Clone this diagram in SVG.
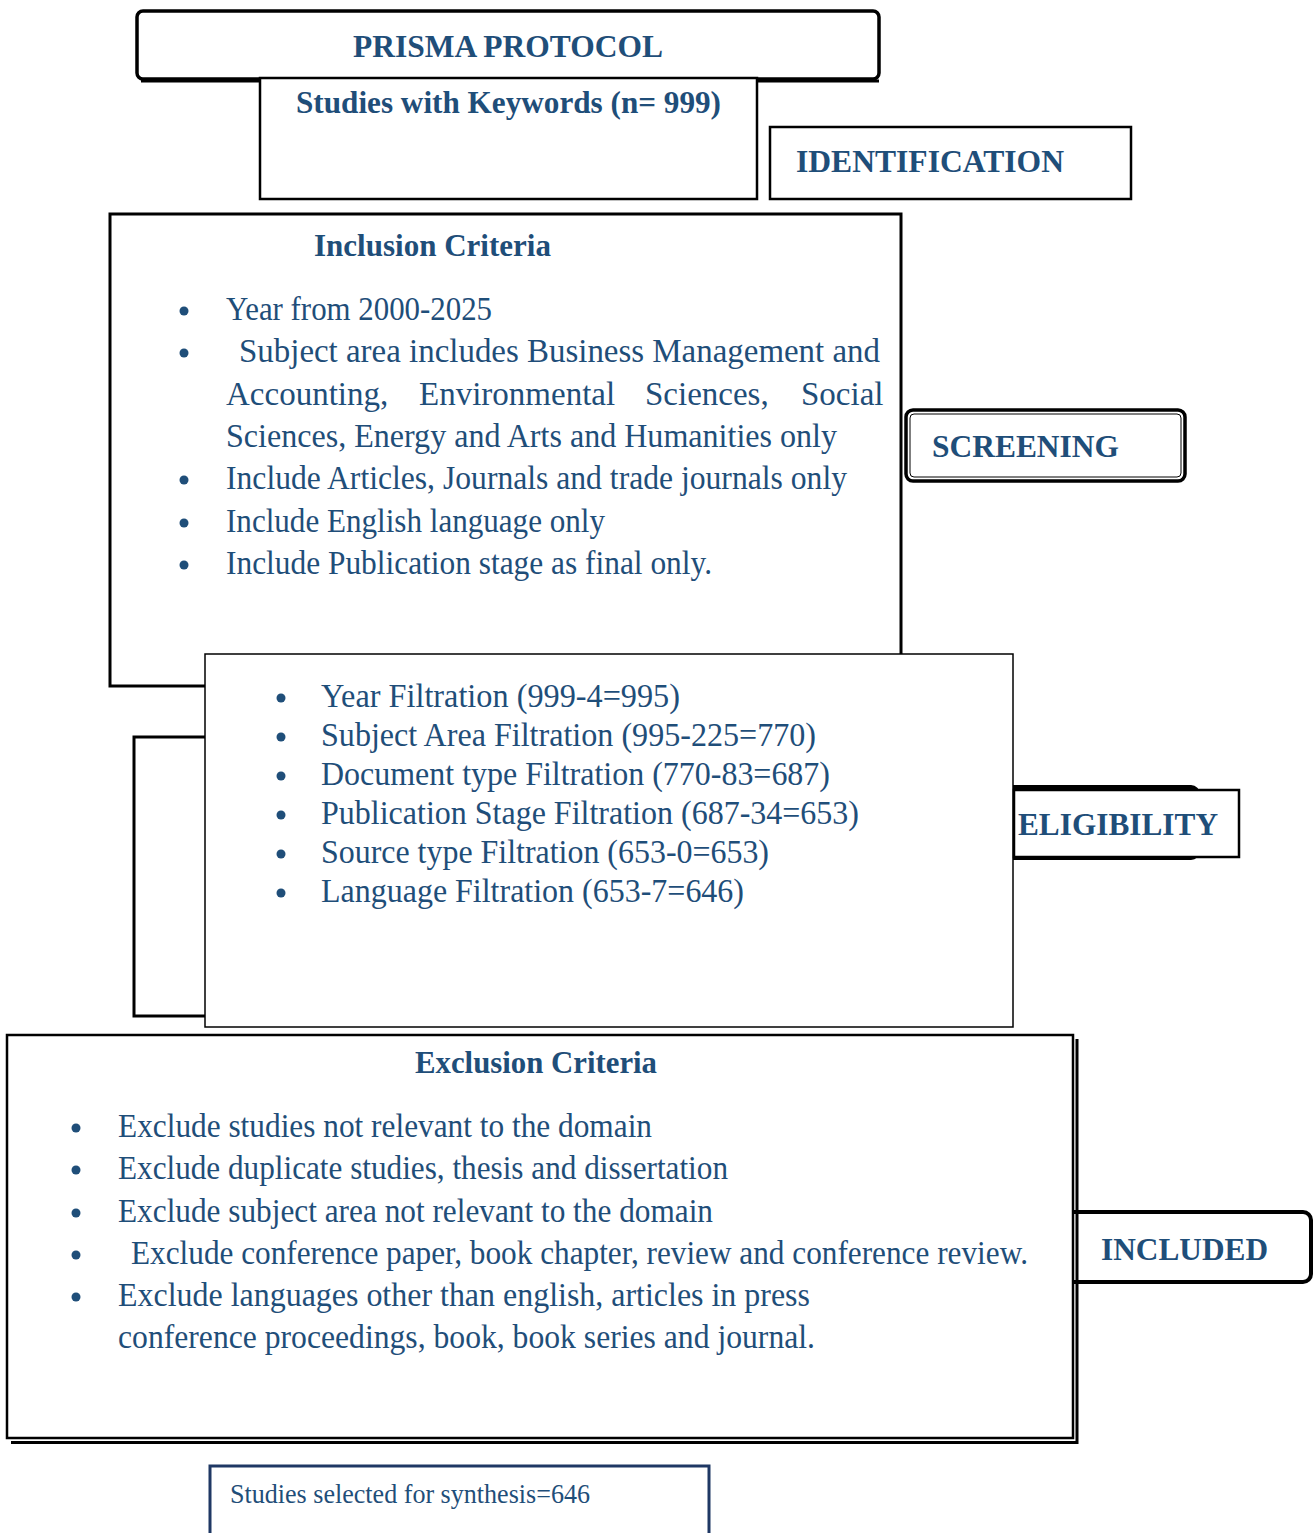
<svg xmlns="http://www.w3.org/2000/svg" width="1315" height="1533" viewBox="0 0 1315 1533">
<style>
.t{font-family:"Liberation Serif","Times New Roman",serif;fill:#1F4E79;font-size:33px}
.b{font-weight:bold;font-size:32px}
.box{fill:#fff;stroke:#000}
.bul{fill:#1F4E79}
</style>
<rect width="1315" height="1533" fill="#fff"/>
<g id="connectors"/>
<g id="prisma">
<path d="M141 81 H879" fill="none" stroke="#000" stroke-width="3"/>
<rect class="box" x="137" y="11" width="742" height="68" rx="6" stroke-width="3.5"/>
<text class="t b" x="353" y="57" textLength="310" lengthAdjust="spacingAndGlyphs">PRISMA PROTOCOL</text>
</g>
<g id="studies-keywords">
<rect class="box" x="260" y="78" width="497" height="121" stroke-width="2.5"/>
<text class="t b" x="296" y="113" textLength="425" lengthAdjust="spacingAndGlyphs">Studies with Keywords (n= 999)</text>
</g>
<g id="identification">
<rect class="box" x="770" y="127" width="361" height="72" stroke-width="2.5"/>
<text class="t b" x="796" y="172" textLength="268" lengthAdjust="spacingAndGlyphs">IDENTIFICATION</text>
</g>
<g id="inclusion">
<rect class="box" x="110" y="214" width="791" height="472" stroke-width="3"/>
<text class="t b" x="314" y="256" textLength="237" lengthAdjust="spacingAndGlyphs">Inclusion Criteria</text>
<circle class="bul" cx="184" cy="311" r="4.5"/>
<circle class="bul" cx="184" cy="353" r="4.5"/>
<circle class="bul" cx="184" cy="480" r="4.5"/>
<circle class="bul" cx="184" cy="523" r="4.5"/>
<circle class="bul" cx="184" cy="565" r="4.5"/>
<text class="t" x="226" y="320" textLength="266" lengthAdjust="spacingAndGlyphs">Year from 2000-2025</text>
<text class="t" x="239" y="362" textLength="641" lengthAdjust="spacingAndGlyphs">Subject area includes Business Management and</text>
<text class="t" y="405"><tspan x="226">Accounting,</tspan><tspan x="419">Environmental</tspan><tspan x="645">Sciences,</tspan><tspan x="801">Social</tspan></text>
<text class="t" x="226" y="447" textLength="611" lengthAdjust="spacingAndGlyphs">Sciences, Energy and Arts and Humanities only</text>
<text class="t" x="226" y="489" textLength="621" lengthAdjust="spacingAndGlyphs">Include Articles, Journals and trade journals only</text>
<text class="t" x="226" y="532" textLength="379" lengthAdjust="spacingAndGlyphs">Include English language only</text>
<text class="t" x="226" y="574" textLength="486" lengthAdjust="spacingAndGlyphs">Include Publication stage as final only.</text>
</g>
<g id="screening">
<rect class="box" x="906" y="410" width="279" height="71" rx="7" stroke-width="3.5"/>
<rect x="910" y="414" width="271" height="63" rx="4" fill="none" stroke="#000" stroke-width="1"/>
<text class="t b" x="932" y="457" textLength="187" lengthAdjust="spacingAndGlyphs">SCREENING</text>
</g>
<g id="eligibility-back">
<rect class="box" x="134" y="737" width="700" height="279" stroke-width="3"/>
</g>
<g id="eligibility-label-back">
<rect class="box" x="900" y="787" width="298" height="71" rx="7" stroke-width="4"/>
</g>
<g id="filtration">
<rect class="box" x="205" y="654" width="808" height="373" stroke="#444" stroke-width="1.5"/>
<circle class="bul" cx="281" cy="698" r="4.5"/>
<circle class="bul" cx="281" cy="737" r="4.5"/>
<circle class="bul" cx="281" cy="776" r="4.5"/>
<circle class="bul" cx="281" cy="815" r="4.5"/>
<circle class="bul" cx="281" cy="854" r="4.5"/>
<circle class="bul" cx="281" cy="893" r="4.5"/>
<text class="t" x="321" y="707" textLength="359" lengthAdjust="spacingAndGlyphs">Year Filtration (999-4=995)</text>
<text class="t" x="321" y="746" textLength="495" lengthAdjust="spacingAndGlyphs">Subject Area Filtration (995-225=770)</text>
<text class="t" x="321" y="785" textLength="509" lengthAdjust="spacingAndGlyphs">Document type Filtration (770-83=687)</text>
<text class="t" x="321" y="824" textLength="538" lengthAdjust="spacingAndGlyphs">Publication Stage Filtration (687-34=653)</text>
<text class="t" x="321" y="863" textLength="448" lengthAdjust="spacingAndGlyphs">Source type Filtration (653-0=653)</text>
<text class="t" x="321" y="902" textLength="423" lengthAdjust="spacingAndGlyphs">Language Filtration (653-7=646)</text>
</g>
<g id="eligibility">
<rect class="box" x="1014" y="790" width="225" height="67" stroke-width="2.5"/>
<text class="t b" x="1018" y="835" textLength="200" lengthAdjust="spacingAndGlyphs">ELIGIBILITY</text>
</g>
<g id="included">
<rect class="box" x="1050" y="1212" width="261" height="70" rx="8" stroke-width="4"/>
</g>
<g id="exclusion">
<path d="M11 1442.5 H1077 V1039" fill="none" stroke="#000" stroke-width="3"/>
<rect class="box" x="7" y="1035" width="1066" height="403" stroke-width="2.5"/>
<text class="t b" x="415" y="1073" textLength="242" lengthAdjust="spacingAndGlyphs">Exclusion Criteria</text>
<circle class="bul" cx="76" cy="1128" r="4.5"/>
<circle class="bul" cx="76" cy="1170" r="4.5"/>
<circle class="bul" cx="76" cy="1213" r="4.5"/>
<circle class="bul" cx="76" cy="1255" r="4.5"/>
<circle class="bul" cx="76" cy="1297" r="4.5"/>
<text class="t" x="118" y="1137" textLength="534" lengthAdjust="spacingAndGlyphs">Exclude studies not relevant to the domain</text>
<text class="t" x="118" y="1179" textLength="610" lengthAdjust="spacingAndGlyphs">Exclude duplicate studies, thesis and dissertation</text>
<text class="t" x="118" y="1222" textLength="595" lengthAdjust="spacingAndGlyphs">Exclude subject area not relevant to the domain</text>
<text class="t" x="131" y="1264" textLength="897" lengthAdjust="spacingAndGlyphs">Exclude conference paper, book chapter, review and conference review.</text>
<text class="t" x="118" y="1306" textLength="692" lengthAdjust="spacingAndGlyphs">Exclude languages other than english, articles in press</text>
<text class="t" x="118" y="1348" textLength="697" lengthAdjust="spacingAndGlyphs">conference proceedings, book, book series and journal.</text>
</g>
<g id="included-label">
<text class="t b" x="1101" y="1260" textLength="167" lengthAdjust="spacingAndGlyphs">INCLUDED</text>
</g>
<g id="synthesis">
<path d="M210 1545 V1466 H709 V1545" fill="#fff" stroke="#1F3864" stroke-width="3"/>
<text class="t" style="font-size:27px" x="230" y="1503" textLength="360" lengthAdjust="spacingAndGlyphs">Studies selected for synthesis=646</text>
</g>
</svg>
